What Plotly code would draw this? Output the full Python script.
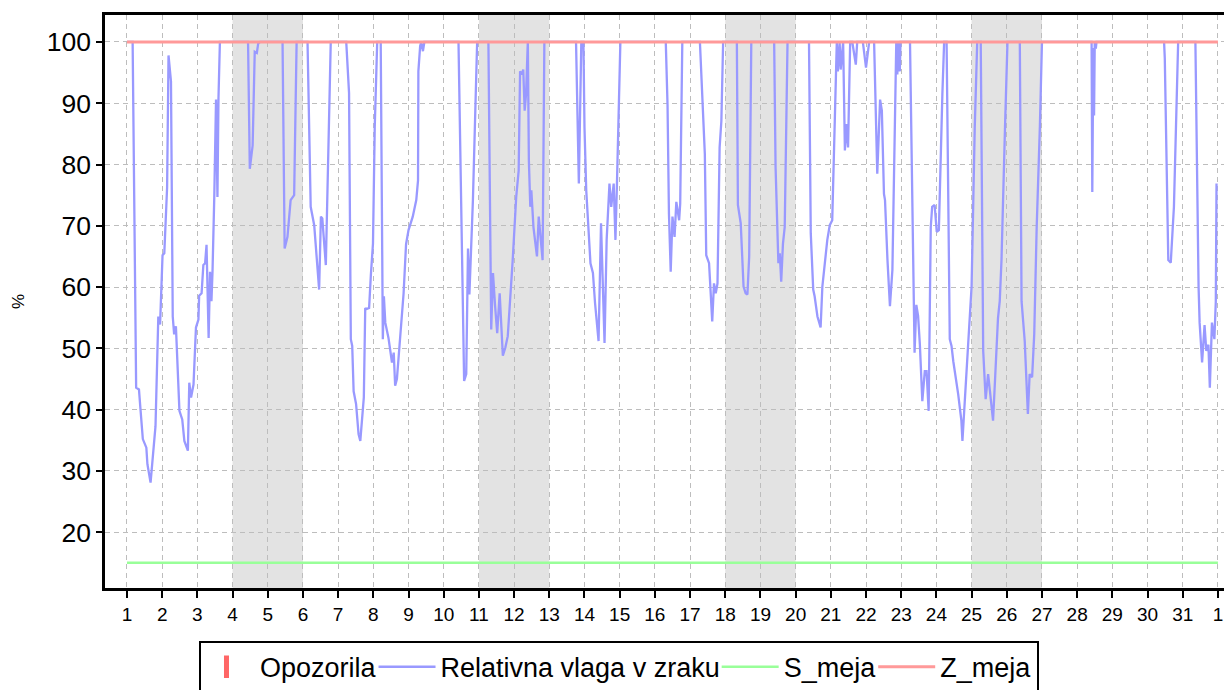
import plotly.graph_objects as go

# ---- data ----
humidity_days = [
    1.00, 1.16, 1.26, 1.34, 1.38, 1.45, 1.55, 1.58, 1.67, 1.74, 1.81, 1.89, 1.94,
    2.01, 2.06, 2.14, 2.18, 2.25, 2.30, 2.34, 2.39, 2.49, 2.57, 2.63, 2.73, 2.77, 2.82, 2.89, 2.96,
    3.03, 3.05, 3.12, 3.17, 3.22, 3.26, 3.32, 3.36, 3.40, 3.43, 3.48, 3.53, 3.57, 3.60, 3.64,
    4.44, 4.49, 4.57, 4.63, 4.69, 4.73, 4.78,
    5.42, 5.48, 5.56, 5.65, 5.75, 5.82,
    6.13, 6.22, 6.32, 6.46, 6.51, 6.55, 6.65, 6.79,
    7.23, 7.31, 7.36, 7.40, 7.44, 7.51, 7.58, 7.63, 7.73, 7.77, 7.80, 7.88, 7.93, 7.99,
    8.04, 8.11, 8.21, 8.27, 8.30, 8.34, 8.43, 8.48, 8.53, 8.58, 8.62, 8.67, 8.76, 8.86, 8.93,
    9.00, 9.12, 9.22, 9.27, 9.28, 9.33, 9.36, 9.41, 9.45,
    10.42, 10.53, 10.58, 10.64, 10.67, 10.69, 10.73, 10.78, 10.83, 10.95,
    11.27, 11.35, 11.40, 11.46, 11.52, 11.59, 11.68, 11.75, 11.82, 11.96,
    12.06, 12.13, 12.17, 12.22, 12.26, 12.30, 12.34, 12.39, 12.42, 12.46, 12.49, 12.55, 12.65,
    12.70, 12.81, 12.86,
    13.76, 13.84, 13.91, 13.97,
    14.00, 14.05, 14.17, 14.24, 14.30, 14.40, 14.47, 14.57, 14.63, 14.71, 14.76, 14.83, 14.88, 14.92,
    15.02, 16.31, 16.36, 16.40, 16.45, 16.50, 16.56, 16.61, 16.69, 16.72, 16.78,
    17.28, 17.32, 17.42, 17.46, 17.54, 17.63, 17.68, 17.73, 17.78, 17.84, 17.89, 17.94,
    18.33, 18.36, 18.44, 18.52, 18.58, 18.63, 18.68, 18.74,
    19.39, 19.43, 19.51, 19.55, 19.59, 19.64, 19.69, 19.77,
    20.38, 20.43, 20.50, 20.54, 20.62, 20.71, 20.76, 20.90, 20.97,
    21.04, 21.14, 21.17, 21.20, 21.25, 21.28, 21.35, 21.40, 21.44, 21.49, 21.55, 21.61, 21.71, 21.75, 21.91,
    22.00, 22.09, 22.23, 22.32, 22.40, 22.45, 22.51, 22.54, 22.61, 22.68, 22.75, 22.86, 22.89, 22.92,
    22.96, 22.98,
    23.25, 23.36, 23.38, 23.43, 23.48, 23.53, 23.60, 23.67, 23.72, 23.78, 23.84, 23.88, 23.95,
    24.01, 24.07, 24.17, 24.22, 24.29, 24.38, 24.43, 24.48, 24.62, 24.71, 24.74, 24.78, 24.90, 24.95,
    25.00, 25.09, 25.16, 25.26, 25.33, 25.40, 25.47, 25.52, 25.61, 25.66, 25.75, 25.80, 25.85, 25.95,
    26.02, 26.37, 26.42, 26.51, 26.60, 26.65, 26.72, 26.78, 26.85, 26.94,
    27.00, 28.41, 28.43, 28.46, 28.48, 28.50, 28.53, 28.55,
    30.47, 30.49, 30.59, 30.66, 30.75, 30.87,
    31.36, 31.45, 31.48, 31.55, 31.62, 31.67, 31.73, 31.77, 31.83, 31.90, 31.94, 31.96,
]
humidity_values = [
    100, 100, 43.6, 43.3, 40.3, 35.2, 33.8, 31.1, 28.1, 32.2, 37.3, 55.2, 53.9,
    65.2, 65.5, 76.3, 97.8, 93.6, 55.2, 52.3, 53.6, 39.8, 38.4, 34.9, 33.3, 44.4, 42.0, 44.1, 53.4,
    54.7, 58.6, 59.0, 63.6, 63.9, 66.9, 51.7, 62.5, 57.7, 62.5, 74.7, 90.6, 74.7, 90.9, 100,
    100, 79.3, 83.1, 98.4, 98.2, 99.8, 100,
    100, 66.3, 68.2, 74.2, 75.0, 100,
    100, 73.1, 70.1, 59.6, 71.5, 71.2, 63.6, 100,
    100, 91.7, 51.5, 50.4, 43.0, 40.9, 36.0, 34.9, 42.0, 56.6, 56.4, 56.6, 62.0, 67.1,
    86.1, 100, 100, 51.5, 58.5, 54.2, 51.7, 49.3, 47.7, 49.3, 43.9, 45.0, 51.2, 59.0, 67.0,
    69.3, 71.5, 74.2, 77.4, 95.2, 99.3, 100, 98.5, 100,
    100, 57.7, 44.7, 45.8, 57.7, 66.3, 58.8, 66.3, 74.2, 100,
    100, 53.1, 62.3, 56.9, 52.5, 59.0, 48.8, 50.1, 52.0, 64.4,
    74.7, 79.0, 95.2, 94.7, 95.5, 88.8, 91.5, 100, 80.6, 73.1, 75.8, 69.8, 65.0,
    71.5, 64.4, 100,
    100, 76.9, 100, 100,
    86.1, 75.8, 63.9, 62.3, 57.4, 51.2, 70.4, 50.9, 67.7, 76.9, 73.1, 76.9, 67.7, 76.3,
    100, 100, 89.8, 72.0, 62.5, 71.5, 68.2, 73.9, 70.9, 73.6, 100,
    100, 95.2, 81.7, 65.2, 63.9, 54.4, 60.6, 59.0, 60.6, 82.8, 87.1, 100,
    100, 73.4, 70.4, 60.1, 59.0, 58.8, 65.0, 100,
    100, 79.6, 63.9, 65.5, 60.9, 67.1, 69.8, 100,
    100, 68.8, 59.6, 58.5, 55.2, 53.4, 60.1, 67.7, 70.1,
    70.9, 91.5, 100, 95.2, 100, 95.5, 100, 82.3, 86.6, 82.8, 100, 100, 96.3, 100, 100,
    95.8, 100, 100, 78.5, 90.6, 88.8, 75.2, 74.2, 64.4, 56.9, 62.8, 100, 94.7, 100,
    95.2, 100,
    100, 57.4, 49.3, 57.1, 55.3, 50.7, 41.4, 46.3, 46.3, 39.8, 69.8, 73.1, 73.4,
    69.0, 69.3, 91.5, 100, 100, 51.5, 50.4, 47.9, 42.5, 38.2, 34.9, 38.7, 49.6, 55.1,
    60.1, 86.1, 100, 100, 49.6, 41.7, 45.8, 43.1, 38.2, 44.1, 54.9, 57.7, 64.4, 86.1,
    100, 100, 57.7, 51.2, 39.3, 45.8, 45.3, 52.3, 69.8, 86.1,
    100, 100, 75.5, 99.0, 88.0, 100, 98.9, 100,
    100, 97.4, 64.4, 64.0, 73.1, 100,
    100, 60.1, 54.2, 47.7, 53.8, 49.6, 50.6, 43.6, 54.2, 51.5, 57.7, 76.9,
]
limit_days = [1, 32]
s_meja = [15, 15]
z_meja = [100, 100]
weekend_starts = [4, 11, 18, 25]
weekend_length = 2
tick_days = list(range(1, 33))
tick_labels = [str(d) for d in range(1, 32)] + ["1"]
y_ticks = [20, 30, 40, 50, 60, 70, 80, 90, 100]

FONT = "Liberation Sans, Arial, sans-serif"

fig = go.Figure()
fig.add_trace(go.Scatter(
    x=[None], y=[None], mode="markers", name="Opozorila",
    marker=dict(symbol="line-ns", size=16, color="#ff6666",
                line=dict(color="#ff6666", width=5)),
))
fig.add_trace(go.Scatter(
    x=humidity_days, y=humidity_values, mode="lines",
    name="Relativna vlaga v zraku",
    line=dict(color="#9999ff", width=2.3),
))
fig.add_trace(go.Scatter(
    x=limit_days, y=s_meja, mode="lines", name="S_meja",
    line=dict(color="#99ff99", width=2.5),
))
fig.add_trace(go.Scatter(
    x=limit_days, y=z_meja, mode="lines", name="Z_meja",
    line=dict(color="#ff9999", width=3),
))

for s in weekend_starts:
    fig.add_shape(type="rect", xref="x", yref="paper", x0=s, x1=s + weekend_length,
                  y0=0, y1=1, fillcolor="#e3e3e3", line=dict(width=0), layer="below")

fig.update_layout(
    width=1232, height=690, autosize=False,
    margin=dict(l=97, r=8, t=4, b=110),
    paper_bgcolor="white", plot_bgcolor="white",
    font=dict(family=FONT, color="black"),
    showlegend=True,
    legend=dict(
        orientation="h", x=0.0834, y=-0.092, xanchor="left", yanchor="top",
        bordercolor="black", borderwidth=2, bgcolor="white",
        font=dict(size=27, family=FONT, color="black"),
        itemwidth=57, tracegroupgap=0, indentation=-8,
    ),
    xaxis=dict(
        range=[0.375, 32.40], tickmode="array", tickvals=tick_days, ticktext=tick_labels,
        showgrid=True, gridcolor="#bdbdbd", griddash="5px,4px", gridwidth=1,
        showline=True, linecolor="black", linewidth=2.5, mirror=True,
        ticks="outside", ticklen=7, tickwidth=2, tickcolor="black",
        tickfont=dict(size=19, family=FONT, color="black"), zeroline=False,
    ),
    yaxis=dict(
        range=[10.9, 104.4], tickmode="array", tickvals=y_ticks,
        showgrid=True, gridcolor="#bdbdbd", griddash="5px,4px", gridwidth=1,
        showline=True, linecolor="black", linewidth=2.5, mirror=False,
        ticks="outside", ticklen=6, tickwidth=2, tickcolor="black",
        tickfont=dict(size=26.5, family=FONT, color="black"), zeroline=False,
        title=dict(text="%", font=dict(size=17, family=FONT, color="black"), standoff=18),
    ),
)

fig.write_html("out.html")
